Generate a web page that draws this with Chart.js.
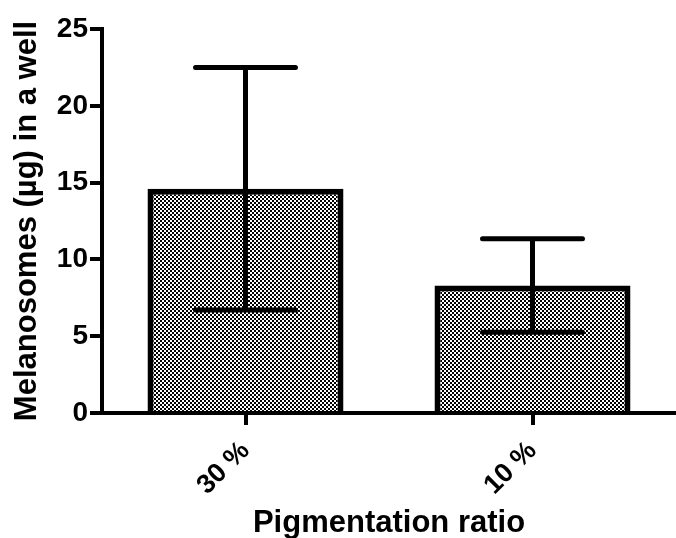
<!DOCTYPE html>
<html>
<head>
<meta charset="utf-8">
<script src="https://cdn.jsdelivr.net/npm/chart.js@4/dist/chart.umd.min.js"></script>
<style>
html,body{margin:0;padding:0;background:#fff;}
#wrap{width:676px;height:538px;position:relative;}
</style>
</head>
<body>
<div id="wrap"><canvas id="c"></canvas></div>
<script>
const categories = ['30 %', '10 %'];
const means = [14.6, 8.3];
const errors = [7.9, 3.05];
const yTicks = [0, 5, 10, 15, 20, 25];
const yTitle = 'Melanosomes (µg) in a well';
const xTitle = 'Pigmentation ratio';

const FONT = "'Liberation Sans', Arial, Helvetica, sans-serif";

function makePattern() {
  const p = document.createElement('canvas');
  p.width = 4; p.height = 4;
  const g = p.getContext('2d');
  g.fillStyle = '#fff';
  g.fillRect(0, 0, 4, 4);
  g.fillStyle = '#000';
  g.fillRect(0, 0, 2, 2);
  g.fillRect(2, 2, 2, 2);
  return g.createPattern(p, 'repeat');
}

const errorBarPlugin = {
  id: 'errorBars',
  afterDatasetsDraw(chart) {
    const ctx = chart.ctx;
    const meta = chart.getDatasetMeta(0);
    const yScale = chart.scales.y;
    ctx.save();
    ctx.strokeStyle = '#000';
    ctx.lineWidth = 5;
    ctx.lineCap = 'round';
    meta.data.forEach((bar, i) => {
      const x = bar.x;
      const yHi = yScale.getPixelForValue(means[i] + errors[i]);
      const yLo = yScale.getPixelForValue(means[i] - errors[i]);
      const half = bar.width * 0.255;
      ctx.beginPath();
      ctx.moveTo(x, yHi); ctx.lineTo(x, yLo);
      ctx.moveTo(x - half, yHi); ctx.lineTo(x + half, yHi);
      ctx.moveTo(x - half, yLo); ctx.lineTo(x + half, yLo);
      ctx.stroke();
    });
    ctx.restore();
  }
};

new Chart(document.getElementById('c'), {
  type: 'bar',
  data: {
    labels: categories,
    datasets: [{
      data: means,
      backgroundColor: makePattern(),
      borderColor: '#000',
      borderWidth: 6,
      borderSkipped: 'bottom',
      categoryPercentage: 1,
      barPercentage: 0.683
    }]
  },
  options: {
    responsive: true,
    maintainAspectRatio: false,
    animation: false,
    layout: { padding: { top: 29, left: 0, right: 0, bottom: 0 } },
    plugins: { legend: { display: false }, tooltip: { enabled: false } },
    scales: {
      x: {
        afterFit(scale) { scale.height = 125; },
        grid: { display: true, drawOnChartArea: false, offset: false, tickLength: 12, lineWidth: 4, color: '#000' },
        border: { display: true, width: 4, color: '#000' },
        ticks: { color: '#000', font: { family: FONT, size: 27, weight: 'bold' }, maxRotation: 45, minRotation: 45, padding: 10 },
        title: { display: true, text: xTitle, color: '#000', font: { family: FONT, size: 31, weight: 'bold', lineHeight: 1 }, padding: { top: 0, bottom: -1 } }
      },
      y: {
        min: 0, max: 25,
        afterFit(scale) { scale.width = 102; },
        afterBuildTicks(scale) { scale.ticks = yTicks.map(v => ({ value: v })); },
        grid: { display: true, drawOnChartArea: false, tickLength: 12, lineWidth: 4, color: '#000' },
        border: { display: true, width: 4, color: '#000' },
        ticks: { color: '#000', font: { family: FONT, size: 28, weight: 'bold' }, padding: 2 },
        title: { display: true, text: yTitle, color: '#000', font: { family: FONT, size: 31, weight: 'bold', lineHeight: 1 }, padding: { top: 12, bottom: 0 } }
      }
    }
  },
  plugins: [errorBarPlugin]
});
</script>
</body>
</html>
